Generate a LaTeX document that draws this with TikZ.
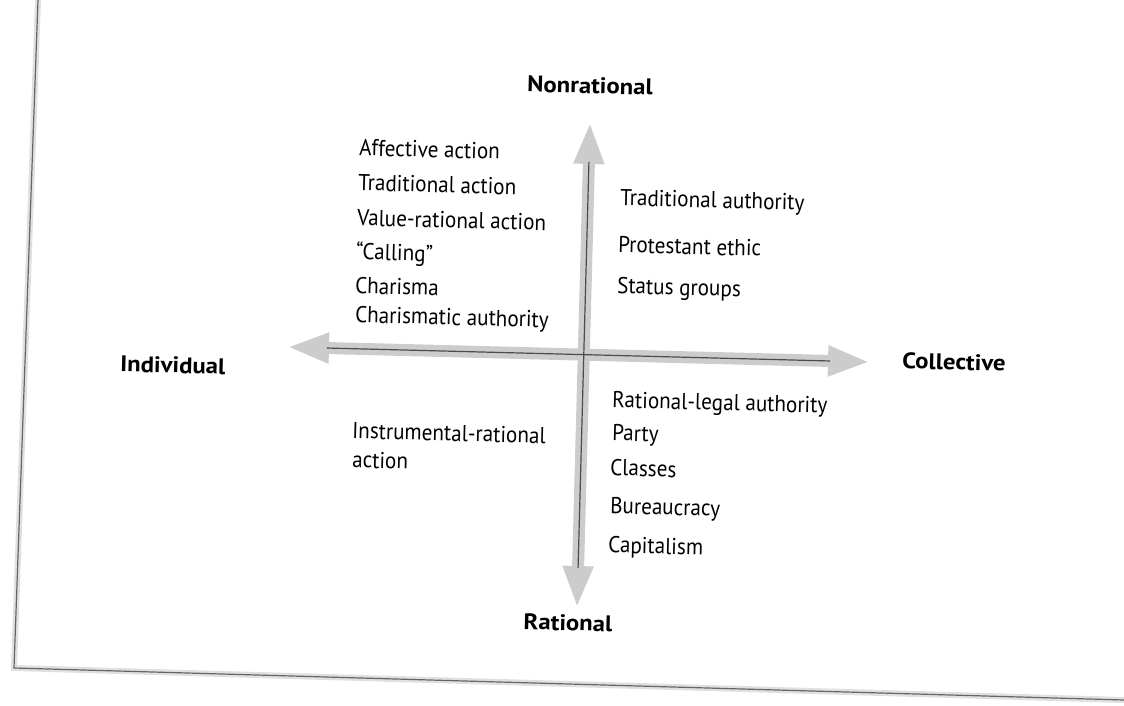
\documentclass[tikz,border=0pt]{standalone}
\usepackage{fontspec}
\setmainfont{PT Sans}[FakeStretch=0.92, BoldFeatures={FakeStretch=1.1}]
\usetikzlibrary{arrows.meta}

\tikzset{
  item/.style={anchor=west, inner sep=0pt, rotate=-1.5, text height=16pt, text depth=5pt,
    font=\fontsize{23}{23}\selectfont},
  pole/.style={inner sep=0pt, rotate=-1.5, text height=16pt, text depth=5pt,
    font=\fontsize{22.5}{22.5}\selectfont\bfseries},
  axisband/.style={line width=12pt, draw=black!20,
    {Triangle[length=42pt,width=28pt]}-{Triangle[length=42pt,width=28pt]}},
  spine/.style={line width=1.2pt, draw=black!70, shorten <=40pt, shorten >=40pt},
  pageedge/.style={line width=1.2pt, draw=black!60}
}

\begin{document}
\begin{tikzpicture}[x=1pt,y=-1pt]
    \useasboundingbox (0,0) rectangle (1124,706);

    % Page edge of the scan
    \coordinate (pageTL) at (38,0);
    \coordinate (pageBL) at (14,668);
    \coordinate (pageBR) at (1124,700);
    \draw[line width=6pt, black!12] (pageTL) -- (pageBL) -- (pageBR);
    \draw[pageedge] (pageTL) -- (pageBL) -- (pageBR);

    % Axes
    \coordinate (W) at (287,347);
    \coordinate (E) at (870,362);
    \coordinate (N) at (590,122);
    \coordinate (S) at (577,608);
    \draw[axisband] (W) -- (E);
    \draw[axisband] (S) -- (N);
    \draw[spine] (W) -- (E);
    \draw[spine] (S) -- (N);

    % Poles
    \node[pole] (nonrational) at (590,88) {Nonrational};
    \node[pole] (rational) at (568,625) {Rational};
    \node[pole, anchor=west] (individual) at (120,366) {Individual};
    \node[pole, anchor=west] (collective) at (902,363) {Collective};

    % Upper left
    \node[item] (affective) at (359,150) {Affective action};
    \node[item] (tradaction) at (358,185) {Traditional action};
    \node[item] (valuerational) at (357,220) {Value-rational action};
    \node[item] (calling) at (356,254) {``Calling''};
    \node[item] (charisma) at (355,288) {Charisma};
    \node[item] (charauth) at (355,317) {Charismatic authority};

    % Upper right
    \node[item] (tradauth) at (620,200) {Traditional authority};
    \node[item] (protestant) at (618,247) {Protestant ethic};
    \node[item] (status) at (617,288) {Status groups};

    % Lower left
    \node[item] (instrumental) at (352,433) {Instrumental-rational};
    \node[item] (instraction) at (352,462) {action};

    % Lower right
    \node[item] (legal) at (612,402) {Rational-legal authority};
    \node[item] (party) at (612,435) {Party};
    \node[item] (classes) at (610,470) {Classes};
    \node[item] (bureaucracy) at (610,508) {Bureaucracy};
    \node[item] (capitalism) at (608,547) {Capitalism};
\end{tikzpicture}
\end{document}
